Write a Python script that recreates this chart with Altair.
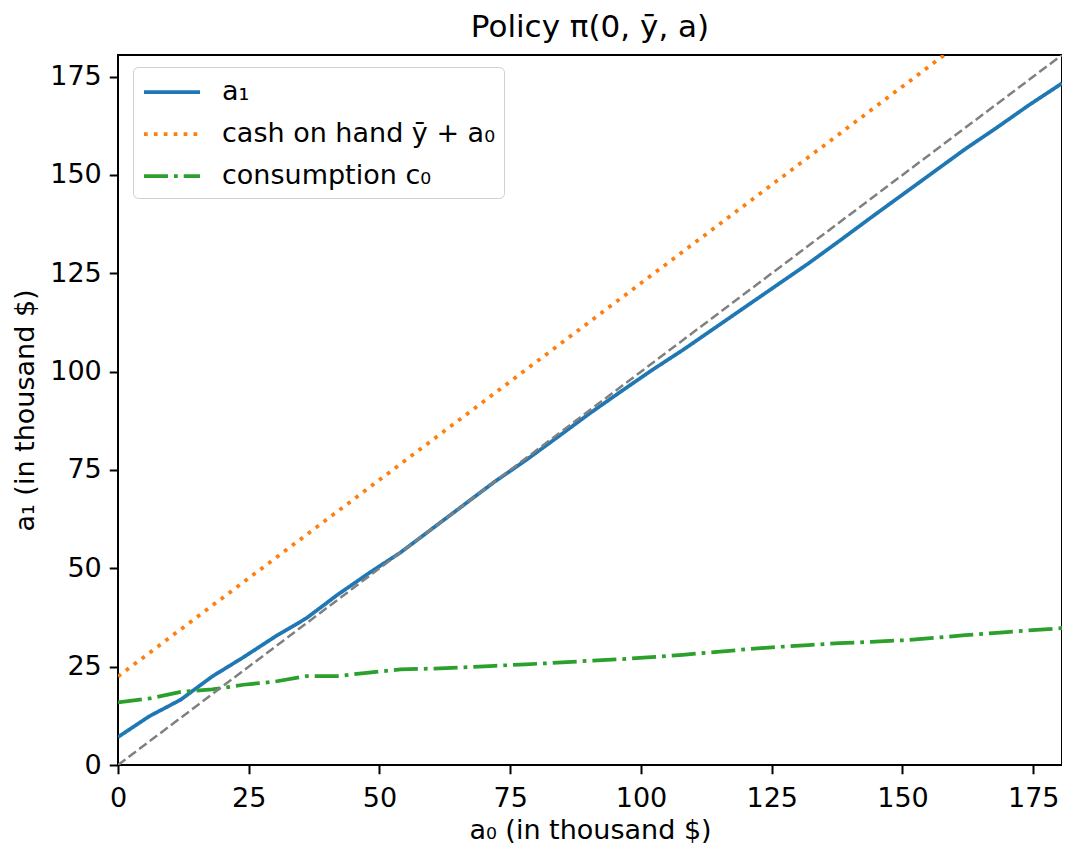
import altair as alt
import pandas as pd

# grid of a0 values (thousand $)
a0 = [0, 6, 12, 18, 24, 30, 36, 42, 48, 54, 60, 66, 72, 78, 84, 90, 96, 102,
      108, 114, 120, 126, 132, 138, 144, 150, 156, 162, 168, 174, 180.5]
# next-period assets a1
a1 = [7.1, 12.4, 16.6, 22.5, 27.4, 32.6, 37.3, 43.3, 48.8, 54.0, 60.0, 66.0,
      72.0, 77.5, 83.3, 89.2, 94.8, 100.3, 105.5, 111.0, 116.5, 122.0, 127.5,
      133.3, 139.2, 145.0, 150.8, 156.6, 162.0, 167.6, 173.3]
# consumption c0
c0 = [15.9, 16.9, 18.6, 19.2, 20.4, 21.2, 22.6, 22.6, 23.5, 24.3, 24.5, 24.8,
      25.2, 25.6, 26.0, 26.5, 26.9, 27.4, 28.0, 28.7, 29.4, 30.0, 30.5, 31.0,
      31.3, 31.7, 32.3, 33.0, 33.6, 34.2, 34.8]
ybar = 22.5
cash = [ybar + v for v in a0]

diag_x = [0, 180.5]

series_names = ["a\u2081", "cash on hand y\u0304 + a\u2080", "consumption c\u2080"]
series_colors = ["#1f77b4", "#ff7f0e", "#2ca02c"]
series_dash = [[1, 0], [3.7, 6.2], [24, 6, 3.75, 6]]

rows = []
for name, vals in zip(series_names, [a1, cash, c0]):
    for i, (x, y) in enumerate(zip(a0, vals)):
        rows.append({"a0": x, "val": y, "series": name, "order": i})
df = pd.DataFrame(rows)
diag = pd.DataFrame({"a0": diag_x, "val": diag_x})

XMAX = 180.5
YMAX = 180.5
xscale = alt.Scale(domain=[0, XMAX], nice=False, zero=False)
yscale = alt.Scale(domain=[0, YMAX], nice=False, zero=False)
ticks = [0, 25, 50, 75, 100, 125, 150, 175]

FS = 27

legend = alt.Legend(title=None, orient="none", legendX=15, legendY=12)

lines = alt.Chart(df).mark_line(strokeWidth=3.75, clip=True).encode(
    x=alt.X("a0:Q", scale=xscale,
            axis=alt.Axis(values=ticks, title="a\u2080 (in thousand $)")),
    y=alt.Y("val:Q", scale=yscale,
            axis=alt.Axis(values=ticks, title="a\u2081 (in thousand $)")),
    color=alt.Color("series:N",
                    scale=alt.Scale(domain=series_names, range=series_colors),
                    legend=legend),
    strokeDash=alt.StrokeDash("series:N",
                              scale=alt.Scale(domain=series_names, range=series_dash),
                              legend=legend),
    order="order:Q",
)

diag_line = alt.Chart(diag).mark_line(
    color="#808080", strokeWidth=2.5, strokeDash=[9.25, 4], clip=True
).encode(x=alt.X("a0:Q", scale=xscale), y=alt.Y("val:Q", scale=yscale))

chart = alt.layer(lines, diag_line).properties(
    width=944, height=710,
    title=alt.TitleParams("Policy \u03c0(0, y\u0304, a)", fontSize=31, font="DejaVu Sans",
                          fontWeight="normal", offset=11),
    autosize=alt.AutoSizeParams(type="none"),
    padding={"left": 110, "top": 47, "right": 0, "bottom": 87},
).configure_view(
    stroke="black", strokeWidth=2
).configure_axis(
    domain=False, grid=False,
    labelFont="DejaVu Sans", labelFontSize=FS, labelColor="black",
    titleFont="DejaVu Sans", titleFontSize=FS, titleFontWeight="normal", titleColor="black",
    tickColor="black", tickWidth=2, tickSize=8.75,
).configure_axisX(
    titlePadding=6, labelFlush=False, labelPadding=12
).configure_axisY(
    titlePadding=10, labelFlush=False, labelPadding=8
).configure_legend(
    labelFont="DejaVu Sans", labelFontSize=FS, labelColor="black", labelLimit=600,
    symbolType="M-2,0L2,0", symbolSize=784, symbolStrokeWidth=3.75,
    symbolFillColor="transparent", symbolOffset=14,
    strokeColor="#d0d0d0", fillColor="white", cornerRadius=5, padding=9,
    rowPadding=13, labelOffset=34,
)

chart.save("out.html", embed_options={"renderer": "svg", "actions": False})
